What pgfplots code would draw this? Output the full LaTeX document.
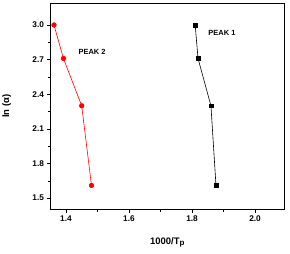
\documentclass[border=0pt]{standalone}
\usepackage{pgfplots}
\pgfplotsset{compat=1.18}
\usepackage{fontspec}
\setmainfont{Liberation Sans}

% Peak 1 and peak 2: ln(alpha) against 1000/Tp
\pgfplotstableread{
x y
1.810 3.00
1.819 2.71
1.860 2.30
1.876 1.61
}\peakone
\pgfplotstableread{
x y
1.362 3.00
1.392 2.71
1.450 2.30
1.481 1.61
}\peaktwo

\begin{document}
\begin{tikzpicture}
\useasboundingbox (-50.5bp,-44.3bp) rectangle (239.5bp,209.7bp);
\begin{axis}[
  scale only axis,
  width=234.2bp, height=206.7bp,
  xmin=1.351, xmax=2.094,
  ymin=1.40, ymax=3.19,
  xtick={1.4,1.6,1.8,2.0},
  ytick={1.5,1.8,2.1,2.4,2.7,3.0},
  minor x tick num=1,
  minor y tick num=1,
  tick align=outside,
  axis x line*=bottom,
  axis y line*=left,
  major tick length=3bp,
  minor tick length=2bp,
  tick style={black, line width=0.5pt},
  axis line style={line width=0.6pt},
  /pgf/number format/assume math mode=true,
  /pgf/number format/fixed,
  /pgf/number format/fixed zerofill,
  /pgf/number format/precision=1,
  ticklabel style={font=\fontsize{8.3}{9}\selectfont\bfseries},
  xlabel={1000/T\textsubscript{\fontsize{8}{9}\selectfont p}},
  ylabel={ln (α)},
  xlabel style={font=\fontsize{9.5}{11}\selectfont\bfseries, at={(axis description cs:0.5,0)}, anchor=north, yshift=-24bp},
  ylabel style={font=\fontsize{9.5}{11}\selectfont\bfseries, at={(axis description cs:0,0.5)}, anchor=south, yshift=36bp},
  clip=false,
]
% right and top frame without ticks
\draw[line width=0.6pt] (rel axis cs:0,1) -- (rel axis cs:1,1) -- (rel axis cs:1,0);
\addplot[black, line width=0.6pt, mark=square*, mark size=1.9pt] table[x=x,y=y] {\peakone};
\addplot[red, line width=0.6pt, mark=*, mark size=2.3pt, mark options={fill=red}] table[x=x,y=y] {\peaktwo};
\node[font=\fontsize{7.5}{9}\selectfont\bfseries] at (axis cs:1.483,2.77) {PEAK 2};
\node[font=\fontsize{7.5}{9}\selectfont\bfseries] at (axis cs:1.895,2.93) {PEAK 1};
\end{axis}
\end{tikzpicture}
\end{document}
